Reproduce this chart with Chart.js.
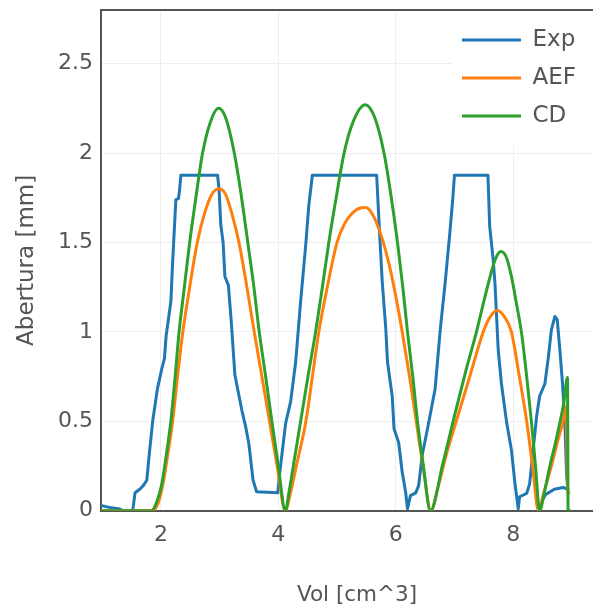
<!DOCTYPE html>
<html>
<head>
<meta charset="utf-8">
<title>Abertura vs Vol</title>
<script src="https://cdn.jsdelivr.net/npm/chart.js@4.4.1/dist/chart.umd.min.js"></script>
<style>
    html, body { margin: 0; padding: 0; background: #fff; overflow: hidden; }
    /* the plot runs past the right edge of the window, as in the original */
    #wrap { width: 593px; height: 610px; overflow: hidden; }
</style>
</head>
<body>
<div id="wrap"><canvas id="chart" width="613" height="610"></canvas></div>
<script>
// Values: Vol [cm^3] on x, Abertura [mm] on y
const expVol = [0.98, 1.1, 1.3, 1.35, 1.52, 1.56, 1.64, 1.7, 1.76, 1.8, 1.86, 1.94, 2.02, 2.06, 2.09, 2.17, 2.2, 2.23, 2.255, 2.3, 2.32, 2.34,
    2.965, 2.99, 3.02, 3.06, 3.09, 3.15, 3.2, 3.26, 3.32, 3.38, 3.45, 3.5, 3.57, 3.63, 3.99, 4.02, 4.125, 4.21, 4.295, 4.38, 4.465, 4.52, 4.58,
    5.675, 5.72, 5.77, 5.83, 5.86, 5.94, 5.97, 6.05, 6.11, 6.17, 6.2, 6.25, 6.34, 6.39, 6.45, 6.56, 6.67, 6.76, 6.84, 6.92, 6.97, 7.0,
    7.57, 7.6, 7.66, 7.69, 7.745, 7.8, 7.89, 7.97, 8.03, 8.06, 8.085, 8.11, 8.23, 8.28, 8.34, 8.4, 8.45, 8.54, 8.6, 8.65, 8.71, 8.75,
    8.795, 8.84, 8.88, 8.91, 8.93, 8.85, 8.7, 8.55, 8.5];
const expAbertura = [0.03, 0.02, 0.01, 0, 0, 0.1, 0.12, 0.14, 0.17, 0.31, 0.5, 0.68, 0.8, 0.85, 0.98, 1.17, 1.39, 1.58, 1.74, 1.745, 1.8, 1.876,
    1.876, 1.8, 1.6, 1.5, 1.31, 1.26, 1.05, 0.76, 0.66, 0.56, 0.46, 0.37, 0.17, 0.106, 0.1, 0.2, 0.49, 0.61, 0.83, 1.17, 1.48, 1.71, 1.876,
    1.876, 1.58, 1.28, 1.02, 0.83, 0.64, 0.46, 0.38, 0.215, 0.1, 0.01, 0.084, 0.1, 0.14, 0.31, 0.49, 0.68, 1.02, 1.27, 1.55, 1.74, 1.876,
    1.876, 1.59, 1.4, 1.27, 0.9, 0.71, 0.49, 0.34, 0.153, 0.078, 0.01, 0.078, 0.097, 0.15, 0.34, 0.53, 0.64, 0.71, 0.86, 1.01, 1.086, 1.07,
    0.9, 0.71, 0.5, 0.2, 0.12, 0.13, 0.12, 0.09, 0.06];

const aefVol = [0.98, 1.86, 1.95, 2.03, 2.12, 2.2, 2.28, 2.37, 2.5, 2.62, 2.75, 2.87, 2.99, 3.1, 3.21, 3.33, 3.46, 3.59, 3.72, 3.85, 3.98, 4.12,
    4.2, 4.32, 4.47, 4.58, 4.69, 4.84, 5.0, 5.12, 5.25, 5.37, 5.49, 5.58, 5.66, 5.77, 5.885, 6.0, 6.11, 6.23, 6.34, 6.46, 6.6,
    6.72, 6.85, 7.03, 7.26, 7.49, 7.6, 7.73, 7.84, 7.97, 8.1, 8.23, 8.33, 8.43,
    8.52, 8.65, 8.75, 8.85, 8.9, 8.93, 8.95];
const aefAbertura = [0, 0, 0.04, 0.14, 0.32, 0.5, 0.74, 0.99, 1.27, 1.5, 1.67, 1.77, 1.8, 1.77, 1.66, 1.5, 1.26, 1.0, 0.75, 0.5, 0.25, 0,
    0.09, 0.27, 0.5, 0.75, 1.0, 1.26, 1.5, 1.6, 1.66, 1.69, 1.695, 1.67, 1.62, 1.52, 1.38, 1.2, 1.0, 0.76, 0.52, 0.26, 0,
    0.13, 0.3, 0.5, 0.75, 1.0, 1.08, 1.12, 1.09, 1.0, 0.76, 0.5, 0.25, 0,
    0.1, 0.25, 0.38, 0.5, 0.58, 0.1, 0.1];

const cdVol = [0.98, 1.84, 1.93, 2.01, 2.1, 2.17, 2.24, 2.31, 2.4, 2.49, 2.6, 2.71, 2.84, 2.98, 3.1, 3.25, 3.37, 3.48, 3.58, 3.675, 3.78, 3.89, 4.0, 4.12,
    4.18, 4.26, 4.38, 4.51, 4.635, 4.75, 4.86, 4.99, 5.12, 5.28, 5.48, 5.64, 5.8, 5.92, 6.03, 6.12, 6.2, 6.29, 6.37, 6.47, 6.59,
    6.8, 7.0, 7.2, 7.375, 7.5, 7.6, 7.7, 7.79, 7.88, 7.97, 8.06, 8.14, 8.23, 8.31, 8.38, 8.45,
    8.53, 8.625, 8.72, 8.8, 8.86, 8.925, 8.935, 8.97];
const cdAbertura = [0, 0, 0.05, 0.14, 0.33, 0.5, 0.74, 1.0, 1.25, 1.5, 1.76, 2.0, 2.17, 2.25, 2.2, 2.0, 1.76, 1.5, 1.26, 1.0, 0.76, 0.5, 0.25, 0,
    0.1, 0.26, 0.5, 0.76, 1.0, 1.25, 1.5, 1.76, 2.0, 2.18, 2.27, 2.2, 2.0, 1.76, 1.5, 1.25, 1.0, 0.75, 0.5, 0.25, 0,
    0.26, 0.53, 0.79, 1.0, 1.17, 1.3, 1.41, 1.45, 1.42, 1.31, 1.15, 1.0, 0.75, 0.5, 0.25, 0,
    0.1, 0.25, 0.38, 0.5, 0.6, 0.745, 0, 0];

const seriesLabels = ['Exp', 'AEF', 'CD'];
const seriesColors = ['#1f77b4', '#ff7f0e', '#2ca02c'];
const xTicks = [2, 4, 6, 8];
const yTicks = [0, 0.5, 1, 1.5, 2, 2.5];
const yTickLabels = ['0', '0.5', '1', '1.5', '2', '2.5'];

const FONT = 'DejaVu Sans';
const TEXT = '#555';
const AXIS = '#555';

function pairs(xs, ys) {
    return xs.map((x, i) => ({ x: x, y: ys[i] }));
}

// legend sits inside the plot, top right, on a white box (like the original)
const legendInside = {
    id: 'legendInside',
    beforeLayout(chart) {
        const lg = chart.legend;
        lg._layers = () => [{
            z: 1,
            draw() {
                const area = chart.chartArea;
                const ctx = chart.ctx;
                lg.left = 447;
                lg.top = area.top + 3.5;
                ctx.save();
                ctx.fillStyle = '#fff';
                ctx.fillRect(452, area.top + 1.5, area.right - 452, 134);
                ctx.restore();
                lg.draw();
            }
        }];
    }
};

const chart = new Chart(document.getElementById('chart'), {
    type: 'line',
    data: {
        datasets: [
            { label: seriesLabels[0], data: pairs(expVol, expAbertura), borderColor: seriesColors[0], backgroundColor: seriesColors[0], order: 2 },
            { label: seriesLabels[1], data: pairs(aefVol, aefAbertura), borderColor: seriesColors[1], backgroundColor: seriesColors[1], order: 1, cubicInterpolationMode: 'monotone' },
            { label: seriesLabels[2], data: pairs(cdVol, cdAbertura), borderColor: seriesColors[2], backgroundColor: seriesColors[2], order: 0, cubicInterpolationMode: 'monotone' }
        ]
    },
    options: {
        responsive: false,
        animation: false,
        devicePixelRatio: 1,
        events: [],
        layout: { autoPadding: false, padding: { top: 10, right: 0, bottom: 0, left: 0 } },
        elements: {
            point: { radius: 0, borderWidth: 3 },
            line: { borderWidth: 3, tension: 0, borderJoinStyle: 'round', borderCapStyle: 'round', fill: false }
        },
        scales: {
            x: {
                type: 'linear',
                position: 'bottom',
                min: 0.98,
                max: 9.7,
                afterFit: s => { s.height = 99.3; s.paddingLeft = 0; s.paddingRight = 0; },
                afterBuildTicks: s => { s.ticks = xTicks.map(v => ({ value: v })); },
                ticks: { color: TEXT, font: { family: FONT, size: 22 }, padding: 11, maxRotation: 0, autoSkip: false },
                grid: { color: '#eee', lineWidth: 1, drawTicks: false },
                border: { display: true, color: AXIS, width: 2 },
                title: { display: true, text: 'Vol [cm^3]', color: TEXT, font: { family: FONT, size: 21.5 }, padding: { top: 0, bottom: 2 } }
            },
            xTop: {
                type: 'linear',
                position: 'top',
                min: 0.98,
                max: 9.7,
                afterFit: s => { s.height = 0; },
                ticks: { display: false },
                grid: { display: false, drawTicks: false },
                border: { display: true, color: AXIS, width: 2 }
            },
            y: {
                type: 'linear',
                min: 0,
                max: 2.8,
                afterFit: s => { s.width = 101; s.paddingTop = 0; s.paddingBottom = 0; },
                afterBuildTicks: s => { s.ticks = yTicks.map(v => ({ value: v })); },
                ticks: { color: TEXT, font: { family: FONT, size: 22 }, padding: 8, callback: (v, i) => yTickLabels[i] },
                grid: { color: '#eee', lineWidth: 1, drawTicks: false },
                border: { display: true, color: AXIS, width: 2 },
                title: { display: true, text: 'Abertura [mm]', color: TEXT, font: { family: FONT, size: 23 }, padding: { top: 13, bottom: 0 } }
            }
        },
        plugins: {
            legend: {
                position: 'chartArea',
                align: 'start',
                labels: {
                    usePointStyle: true,
                    pointStyle: 'line',
                    pointStyleWidth: 59,
                    padding: 15,
                    color: TEXT,
                    font: { family: FONT, size: 23 },
                    sort: (a, b) => a.datasetIndex - b.datasetIndex
                }
            },
            tooltip: { enabled: false }
        }
    },
    plugins: [legendInside]
});
</script>
</body>
</html>
